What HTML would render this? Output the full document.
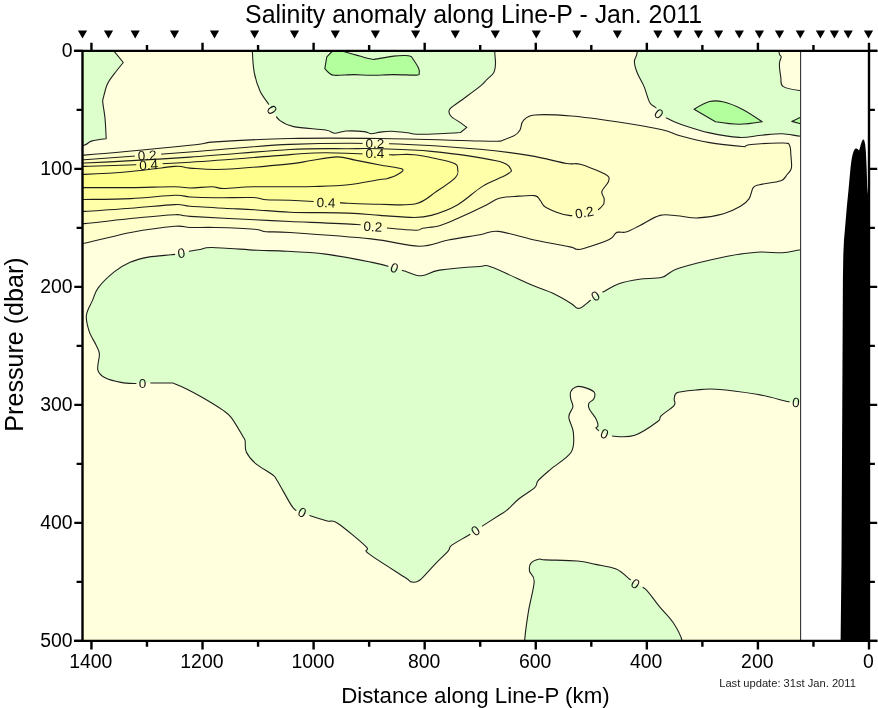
<!DOCTYPE html>
<html><head><meta charset="utf-8"><style>html,body{margin:0;padding:0;background:#fff;overflow:hidden}svg{display:block;will-change:transform}</style></head>
<body><svg width="878" height="708" viewBox="0 0 878 708">
<rect x="0" y="0" width="878" height="708" fill="#ffffff"/>
<defs><clipPath id="pc"><rect x="82.5" y="50.8" width="718.2" height="590"/></clipPath>
<mask id="lm" maskUnits="userSpaceOnUse" x="0" y="0" width="878" height="708"><rect x="0" y="0" width="878" height="708" fill="#fff"/><rect x="362.6" y="140.5" width="26.4" height="6" fill="#000" transform="rotate(0 375 143.5)"/><rect x="362.6" y="150.5" width="26.4" height="6" fill="#000" transform="rotate(0 375 153.5)"/><rect x="134.8" y="152.3" width="26.4" height="6" fill="#000" transform="rotate(-3 147.2 155.3)"/><rect x="136.3" y="161.9" width="26.4" height="6" fill="#000" transform="rotate(-3 148.7 164.9)"/><rect x="313.6" y="199.5" width="26.4" height="6" fill="#000" transform="rotate(2 326 202.5)"/><rect x="360.6" y="223.5" width="26.4" height="6" fill="#000" transform="rotate(3 373 226.5)"/><rect x="571.9" y="209.4" width="26.4" height="6" fill="#000" transform="rotate(-10 584.3 212.4)"/><rect x="266.0" y="106.8" width="14.0" height="6" fill="#000" transform="rotate(55 272.2 109.8)"/><rect x="652.8" y="110.8" width="14.0" height="6" fill="#000" transform="rotate(37 659 113.8)"/><rect x="175.0" y="249.9" width="14.0" height="6" fill="#000" transform="rotate(-8 181.2 252.9)"/><rect x="388.3" y="264.7" width="14.0" height="6" fill="#000" transform="rotate(20 394.5 267.7)"/><rect x="589.3" y="292.9" width="14.0" height="6" fill="#000" transform="rotate(-32 595.5 295.9)"/><rect x="136.4" y="380.0" width="14.0" height="6" fill="#000" transform="rotate(0 142.6 383)"/><rect x="296.1" y="509.4" width="14.0" height="6" fill="#000" transform="rotate(26 302.3 512.4)"/><rect x="469.2" y="527.6" width="14.0" height="6" fill="#000" transform="rotate(-34 475.4 530.6)"/><rect x="598.4" y="430.6" width="14.0" height="6" fill="#000" transform="rotate(22 604.6 433.6)"/><rect x="629.3" y="580.8" width="14.0" height="6" fill="#000" transform="rotate(32 635.5 583.8)"/><rect x="789.7" y="399.3" width="14.0" height="6" fill="#000" transform="rotate(5 795.9 402.3)"/></mask>
</defs>
<g clip-path="url(#pc)">
<rect x="80" y="48" width="725" height="596" fill="#ffffdd"/>
<path d="M60.00,30.00 C69.10,9.67 105.50,26.37 114.60,30.00 C123.70,33.63 114.60,51.80 114.60,51.80 C114.60,51.80 123.30,62.50 123.30,62.50 C123.30,62.50 116.87,70.28 114.20,73.90 C111.53,77.52 109.10,80.23 107.30,84.20 C105.50,88.17 104.15,94.67 103.40,97.70 C102.65,100.73 102.53,98.97 102.80,102.40 C103.07,105.83 104.43,112.23 105.00,118.30 C105.57,124.37 106.20,138.80 106.20,138.80 C106.20,138.80 95.08,140.03 91.40,141.10 C87.72,142.17 89.33,143.38 84.10,145.20 C78.87,147.02 64.02,171.20 60.00,152.00 C55.98,132.80 50.90,50.33 60.00,30.00 Z" fill="#ddffcc"/>
<path d="M252.40,30.00 C212.00,33.63 252.08,44.67 252.40,51.80 C252.72,58.93 253.03,66.27 254.30,72.80 C255.57,79.33 257.55,85.68 260.00,91.00 C262.45,96.32 267.00,101.47 269.00,104.70 C271.00,107.93 270.17,107.75 272.00,110.40 C273.83,113.05 276.38,117.90 280.00,120.60 C283.62,123.30 286.10,125.03 293.70,126.60 C301.30,128.17 318.77,128.90 325.60,130.00 C332.43,131.10 331.30,133.03 334.70,133.20 C338.10,133.37 341.07,131.27 346.00,131.00 C350.93,130.73 360.12,131.15 364.30,131.60 C368.48,132.05 368.45,133.62 371.10,133.70 C373.75,133.78 376.78,132.52 380.20,132.10 C383.62,131.68 387.03,131.08 391.60,131.20 C396.17,131.32 403.42,132.30 407.60,132.80 C411.78,133.30 411.38,134.05 416.70,134.20 C422.02,134.35 432.20,133.98 439.50,133.70 C446.80,133.42 460.50,132.50 460.50,132.50 C460.50,132.50 466.80,127.40 466.80,127.40 C466.80,127.40 462.67,124.30 460.00,122.40 C457.33,120.50 452.52,118.20 450.80,116.00 C449.08,113.80 448.17,111.65 449.70,109.20 C451.23,106.75 454.95,105.10 460.00,101.30 C465.05,97.50 475.53,90.02 480.00,86.40 C484.47,82.78 484.52,81.87 486.80,79.60 C489.08,77.33 492.25,75.45 493.70,72.80 C495.15,70.15 495.32,67.12 495.50,63.70 C495.68,60.28 494.92,57.92 494.80,52.30 C494.68,46.68 535.20,33.72 494.80,30.00 C454.40,26.28 292.80,26.37 252.40,30.00 Z" fill="#ddffcc"/>
<path d="M637.20,30.00 C613.57,33.72 637.67,47.07 637.20,52.30 C636.73,57.53 634.40,57.98 634.40,61.40 C634.40,64.82 635.60,68.63 637.20,72.80 C638.80,76.97 641.92,81.47 644.00,86.40 C646.08,91.33 647.70,98.80 649.70,102.40 C651.70,106.00 654.38,106.10 656.00,108.00 C657.62,109.90 657.13,111.88 659.40,113.80 C661.67,115.72 666.17,117.80 669.60,119.50 C673.03,121.20 673.33,121.77 680.00,124.00 C686.67,126.23 699.73,130.67 709.60,132.90 C719.47,135.13 730.57,137.02 739.20,137.40 C747.83,137.78 754.23,135.82 761.40,135.20 C768.57,134.58 775.67,133.53 782.20,133.70 C788.73,133.87 795.13,135.78 800.60,136.20 C806.07,136.62 812.60,143.82 815.00,136.20 C817.40,128.58 817.58,98.12 815.00,90.50 C812.42,82.88 804.83,91.18 799.50,90.50 C794.17,89.82 786.12,88.60 783.00,86.40 C779.88,84.20 781.40,81.08 780.80,77.30 C780.20,73.52 779.33,67.12 779.40,63.70 C779.47,60.28 781.27,58.70 781.20,56.80 C781.13,54.90 779.37,56.77 779.00,52.30 C778.63,47.83 802.63,33.72 779.00,30.00 C755.37,26.28 660.83,26.28 637.20,30.00 Z" fill="#ddffcc"/>
<path d="M86.40,315.20 C86.97,310.08 90.53,304.97 92.50,300.40 C94.47,295.83 94.58,292.55 98.20,287.80 C101.82,283.05 108.88,276.15 114.20,271.90 C119.52,267.65 124.42,264.77 130.10,262.30 C135.78,259.83 141.47,258.35 148.30,257.10 C155.13,255.85 165.78,255.37 171.10,254.80 C176.42,254.23 177.17,254.28 180.20,253.70 C183.23,253.12 186.00,252.00 189.30,251.30 C192.60,250.60 196.20,250.13 200.00,249.50 C203.80,248.87 202.48,247.37 212.10,247.50 C221.72,247.63 246.38,249.73 257.70,250.30 C269.02,250.87 268.68,250.27 280.00,250.90 C291.32,251.53 310.43,252.23 325.60,254.10 C340.77,255.97 359.62,259.82 371.00,262.10 C382.38,264.38 388.18,266.28 393.90,267.80 C399.62,269.32 400.75,269.87 405.30,271.20 C409.85,272.53 415.50,275.98 421.20,275.80 C426.90,275.62 429.70,271.65 439.50,270.10 C449.30,268.55 471.35,267.00 480.00,266.50 C488.65,266.00 482.67,263.97 491.40,267.10 C500.13,270.23 522.15,280.93 532.40,285.30 C542.65,289.67 546.45,290.27 552.90,293.30 C559.35,296.33 567.12,301.03 571.10,303.50 C575.08,305.97 575.08,307.45 576.80,308.10 C578.52,308.75 579.32,308.53 581.40,307.40 C583.48,306.27 586.83,303.27 589.30,301.30 C591.77,299.33 593.92,297.13 596.20,295.60 C598.48,294.07 599.22,294.08 603.00,292.10 C606.78,290.12 612.82,285.85 618.90,283.70 C624.98,281.55 632.28,280.27 639.50,279.20 C646.72,278.13 655.78,279.08 662.20,277.30 C668.62,275.52 667.32,271.97 678.00,268.50 C688.68,265.03 713.17,259.22 726.30,256.50 C739.43,253.78 747.48,252.83 756.80,252.20 C766.12,251.57 775.42,253.03 782.20,252.70 C788.98,252.37 794.37,250.65 797.50,250.20 C800.63,249.75 798.08,250.03 801.00,250.00 C803.92,249.97 812.67,224.55 815.00,250.00 C817.33,275.45 817.33,377.25 815.00,402.70 C812.67,428.15 804.33,402.70 801.00,402.70 C797.67,402.70 797.28,402.90 795.00,402.70 C792.72,402.50 793.67,402.90 787.30,401.50 C780.93,400.10 768.67,396.35 756.80,394.30 C744.93,392.25 726.27,389.92 716.10,389.20 C705.93,388.48 702.23,389.43 695.80,390.00 C689.37,390.57 681.10,391.12 677.50,392.60 C673.90,394.08 674.75,396.78 674.20,398.90 C673.65,401.02 676.38,402.48 674.20,405.30 C672.02,408.12 663.85,413.10 661.10,415.80 C658.35,418.50 662.07,418.27 657.70,421.50 C653.33,424.73 642.12,432.73 634.90,435.20 C627.68,437.67 619.53,436.62 614.40,436.30 C609.27,435.98 607.13,434.63 604.10,433.30 C601.07,431.97 597.22,429.50 596.20,428.30 C595.18,427.10 598.00,427.62 598.00,426.10 C598.00,424.58 597.65,422.05 596.20,419.20 C594.75,416.35 590.52,411.65 589.30,409.00 C588.08,406.35 588.13,405.02 588.90,403.30 C589.67,401.58 593.07,400.60 593.90,398.70 C594.73,396.80 595.80,393.87 593.90,391.90 C592.00,389.93 585.53,387.73 582.50,386.90 C579.47,386.07 577.67,386.07 575.70,386.90 C573.73,387.73 571.53,389.93 570.70,391.90 C569.87,393.87 570.33,396.23 570.70,398.70 C571.07,401.17 573.22,403.65 572.90,406.70 C572.58,409.75 568.72,412.63 568.80,417.00 C568.88,421.37 573.02,427.02 573.40,432.90 C573.78,438.78 574.90,446.23 571.10,452.30 C567.30,458.37 556.10,464.57 550.60,469.30 C545.10,474.03 540.75,477.65 538.10,480.70 C535.45,483.75 537.93,484.55 534.70,487.60 C531.47,490.65 523.27,495.28 518.70,499.00 C514.13,502.72 510.42,507.28 507.30,509.90 C504.18,512.52 504.18,512.00 500.00,514.70 C495.82,517.40 486.30,523.45 482.20,526.10 C478.10,528.75 477.67,529.08 475.40,530.60 C473.13,532.12 472.58,532.73 468.60,535.20 C464.62,537.67 454.92,542.75 451.50,545.40 C448.08,548.05 450.95,547.87 448.10,551.10 C445.25,554.33 439.15,559.93 434.40,564.80 C429.65,569.67 423.40,577.45 419.60,580.30 C415.80,583.15 414.07,582.40 411.60,581.90 C409.13,581.40 412.02,582.05 404.80,577.30 C397.58,572.55 374.77,558.52 368.30,553.40 C361.83,548.28 371.12,551.62 366.00,546.60 C360.88,541.58 344.05,527.57 337.60,523.30 C331.15,519.03 331.85,522.25 327.30,521.00 C322.75,519.75 314.47,517.23 310.30,515.80 C306.13,514.37 304.72,513.33 302.30,512.40 C299.88,511.47 297.70,511.50 295.80,510.20 C293.90,508.90 294.02,509.55 290.90,504.60 C287.78,499.65 280.17,485.47 277.10,480.50 C274.03,475.53 276.12,477.65 272.50,474.80 C268.88,471.95 259.77,467.20 255.40,463.40 C251.03,459.60 248.00,455.60 246.30,452.00 C244.60,448.40 245.58,444.08 245.20,441.80 C244.82,439.52 246.28,442.30 244.00,438.30 C241.72,434.30 235.10,422.53 231.50,417.80 C227.90,413.07 226.95,413.12 222.40,409.90 C217.85,406.68 210.08,401.95 204.20,398.50 C198.32,395.05 192.03,391.67 187.10,389.20 C182.17,386.73 177.27,384.73 174.60,383.70 C171.93,382.67 174.72,383.12 171.10,383.00 C167.48,382.88 157.65,383.00 152.90,383.00 C148.15,383.00 145.63,382.92 142.60,383.00 C139.57,383.08 138.30,383.60 134.70,383.50 C131.10,383.40 125.93,383.35 121.00,382.40 C116.07,381.45 108.97,379.90 105.10,377.80 C101.23,375.70 98.75,373.78 97.80,369.80 C96.85,365.82 99.72,358.07 99.40,353.90 C99.08,349.73 97.62,348.60 95.90,344.80 C94.18,341.00 90.68,336.03 89.10,331.10 C87.52,326.17 85.83,320.32 86.40,315.20 Z" fill="#ddffcc"/>
<path d="M524.60,660.00 C498.33,656.83 523.95,649.15 524.60,641.00 C525.25,632.85 526.90,621.02 528.50,611.10 C530.10,601.18 534.02,588.13 534.20,581.50 C534.38,574.87 530.17,574.33 529.60,571.30 C529.03,568.27 529.28,565.32 530.80,563.30 C532.32,561.28 536.23,559.77 538.70,559.20 C541.17,558.63 539.15,559.60 545.60,559.90 C552.05,560.20 569.05,560.25 577.40,561.00 C585.75,561.75 589.23,563.07 595.70,564.40 C602.17,565.73 610.52,566.53 616.20,569.00 C621.88,571.47 626.58,576.73 629.80,579.20 C633.02,581.67 632.88,582.13 635.50,583.80 C638.12,585.47 641.50,585.40 645.50,589.20 C649.50,593.00 654.90,601.05 659.50,606.60 C664.10,612.15 669.32,616.77 673.10,622.50 C676.88,628.23 680.68,634.75 682.20,641.00 C683.72,647.25 708.47,656.83 682.20,660.00 C655.93,663.17 550.87,663.17 524.60,660.00 Z" fill="#ddffcc"/>
<path d="M332.00,51.50 C332.00,51.50 343.80,51.50 343.80,51.50 C343.80,51.50 364.53,57.57 370.00,58.80 C375.47,60.03 372.67,59.35 376.60,58.90 C380.53,58.45 388.80,56.67 393.60,56.10 C398.40,55.53 402.45,55.43 405.40,55.50 C408.35,55.57 411.30,56.50 411.30,56.50 C411.30,56.50 417.20,65.12 418.50,67.90 C419.80,70.68 419.10,73.20 419.10,73.20 C419.10,73.20 420.75,74.87 416.50,75.10 C412.25,75.33 401.13,74.57 393.60,74.60 C386.07,74.63 377.85,75.30 371.30,75.30 C364.75,75.30 360.42,74.60 354.30,74.60 C348.18,74.60 338.75,75.53 334.60,75.30 C330.45,75.07 331.03,74.32 329.40,73.20 C327.77,72.08 324.80,68.60 324.80,68.60 C324.80,68.60 326.80,56.80 326.80,56.80 C326.80,56.80 332.00,51.50 332.00,51.50 Z" fill="#b3fe9d"/>
<path d="M694.10,109.20 C694.10,109.20 704.80,102.73 709.60,101.50 C714.40,100.27 717.47,100.52 722.90,101.80 C728.33,103.08 735.65,105.87 742.20,109.20 C748.75,112.53 762.20,121.80 762.20,121.80 C762.20,121.80 746.98,124.30 739.20,124.30 C731.42,124.30 715.50,121.80 715.50,121.80 C715.50,121.80 694.10,109.20 694.10,109.20 Z" fill="#b3fe9d"/>
<path d="M791.80,121.40 C791.80,121.40 800.60,117.20 800.60,117.20 C800.60,117.20 815.00,117.00 815.00,117.00 C815.00,117.00 815.00,124.00 815.00,124.00 C815.00,124.00 800.60,123.80 800.60,123.80 C800.60,123.80 791.80,121.40 791.80,121.40 Z" fill="#b3fe9d"/>
<path d="M60.00,155.30 C64.03,140.48 62.53,156.77 84.20,155.10 C105.87,153.43 168.13,147.50 190.00,145.30 C211.87,143.10 198.73,143.03 215.40,141.90 C232.07,140.77 262.57,139.07 290.00,138.50 C317.43,137.93 348.33,138.08 380.00,138.50 C411.67,138.92 460.07,140.57 480.00,141.00 C499.93,141.43 495.80,141.22 499.60,141.10 C503.40,140.98 500.23,141.30 502.80,140.30 C505.37,139.30 512.13,136.82 515.00,135.10 C517.87,133.38 518.62,132.42 520.00,130.00 C521.38,127.58 520.85,123.10 523.30,120.60 C525.75,118.10 526.73,115.77 534.70,115.00 C542.67,114.23 557.43,114.87 571.10,116.00 C584.77,117.13 601.52,119.52 616.70,121.80 C631.88,124.08 651.65,127.38 662.20,129.70 C672.75,132.02 672.10,133.55 680.00,135.70 C687.90,137.85 698.75,140.75 709.60,142.60 C720.45,144.45 745.10,146.80 745.10,146.80 C745.10,146.80 744.68,145.13 751.10,144.50 C757.52,143.87 777.18,142.83 783.60,143.00 C790.02,143.17 788.38,143.43 789.60,145.50 C790.82,147.57 790.60,151.63 790.90,155.40 C791.20,159.17 792.03,164.92 791.40,168.10 C790.77,171.28 788.87,172.38 787.10,174.50 C785.33,176.62 785.38,179.10 780.80,180.80 C776.22,182.50 764.20,183.57 759.60,184.70 C755.00,185.83 754.97,185.23 753.20,187.60 C751.43,189.97 751.12,195.78 749.00,198.90 C746.88,202.02 744.73,203.83 740.50,206.30 C736.27,208.77 730.67,211.77 723.60,213.70 C716.53,215.63 705.87,217.55 698.10,217.90 C690.33,218.25 683.35,216.22 677.00,215.80 C670.65,215.38 666.17,213.78 660.00,215.40 C653.83,217.02 644.98,222.98 640.00,225.50 C635.02,228.02 632.65,229.37 630.10,230.50 C627.55,231.63 626.52,232.03 624.70,232.30 C622.88,232.57 620.72,231.95 619.20,232.10 C617.68,232.25 617.27,231.95 615.60,233.20 C613.93,234.45 614.52,237.05 609.20,239.60 C603.88,242.15 589.17,246.90 583.70,248.50 C578.23,250.10 578.68,249.47 576.40,249.20 C574.12,248.93 576.57,248.35 570.00,246.90 C563.43,245.45 548.97,243.08 537.00,240.50 C525.03,237.92 507.70,232.35 498.20,231.40 C488.70,230.45 488.32,233.37 480.00,234.80 C471.68,236.23 458.47,238.10 448.30,240.00 C438.13,241.90 431.88,246.38 419.00,246.20 C406.12,246.02 392.50,241.18 371.00,238.90 C349.50,236.62 307.45,233.70 290.00,232.50 C272.55,231.30 272.23,232.25 266.30,231.70 C260.37,231.15 262.88,229.90 254.40,229.20 C245.92,228.50 226.13,227.78 215.40,227.50 C204.67,227.22 196.75,227.70 190.00,227.50 C183.25,227.30 184.77,225.47 174.90,226.30 C165.03,227.13 145.92,229.68 130.80,232.50 C115.68,235.32 96.00,241.28 84.20,243.20 C72.40,245.12 64.03,258.65 60.00,244.00 C55.97,229.35 55.97,170.12 60.00,155.30 Z" fill="#ffffcc"/>
<path d="M60.00,159.80 C64.03,149.08 62.53,161.00 84.20,159.70 C105.87,158.40 155.70,154.55 190.00,152.00 C224.30,149.45 256.77,145.78 290.00,144.40 C323.23,143.02 357.73,142.88 389.40,143.70 C421.07,144.52 456.57,147.32 480.00,149.30 C503.43,151.28 515.57,153.23 530.00,155.60 C544.43,157.97 558.23,162.07 566.60,163.50 C574.97,164.93 573.75,162.40 580.20,164.20 C586.65,166.00 600.55,171.53 605.30,174.30 C610.05,177.07 609.27,177.93 608.70,180.80 C608.13,183.67 602.67,188.58 601.90,191.50 C601.13,194.42 603.78,196.22 604.10,198.30 C604.42,200.38 603.80,204.00 603.80,204.00 C603.80,204.00 600.80,208.00 598.50,209.50 C596.20,211.00 594.95,212.02 590.00,213.00 C585.05,213.98 576.13,216.33 568.80,215.40 C561.47,214.47 550.73,209.87 546.00,207.40 C541.27,204.93 542.28,202.57 540.40,200.60 C538.52,198.63 539.07,196.28 534.70,195.60 C530.33,194.92 519.48,196.18 514.20,196.50 C508.92,196.82 506.03,197.00 503.00,197.50 C499.97,198.00 498.85,198.22 496.00,199.50 C493.15,200.78 492.42,201.98 485.90,205.20 C479.38,208.42 464.63,215.38 456.90,218.80 C449.17,222.22 445.20,224.13 439.50,225.70 C433.80,227.27 426.50,227.45 422.70,228.20 C418.90,228.95 422.65,230.23 416.70,230.20 C410.75,230.17 396.88,228.95 387.00,228.00 C377.12,227.05 373.57,225.58 357.40,224.50 C341.23,223.42 307.17,222.28 290.00,221.50 C272.83,220.72 271.07,220.65 254.40,219.80 C237.73,218.95 203.25,217.25 190.00,216.40 C176.75,215.55 184.77,214.35 174.90,214.70 C165.03,215.05 145.92,217.02 130.80,218.50 C115.68,219.98 96.00,222.68 84.20,223.60 C72.40,224.52 64.03,234.63 60.00,224.00 C55.97,213.37 55.97,170.52 60.00,159.80 Z" fill="#ffffbb"/>
<path d="M60.00,163.00 C64.03,154.92 62.53,163.98 84.20,163.00 C105.87,162.02 155.70,159.35 190.00,157.10 C224.30,154.85 263.62,150.90 290.00,149.50 C316.38,148.10 333.30,148.82 348.30,148.70 C363.30,148.58 366.17,148.35 380.00,148.80 C393.83,149.25 411.93,149.40 431.30,151.40 C450.67,153.40 482.97,157.87 496.20,160.80 C509.43,163.73 509.00,166.67 510.70,169.00 C512.40,171.33 511.10,171.90 506.40,174.80 C501.70,177.70 490.75,181.33 482.50,186.40 C474.25,191.47 465.43,200.37 456.90,205.20 C448.37,210.03 438.42,213.35 431.30,215.40 C424.18,217.45 422.75,217.50 414.20,217.50 C405.65,217.50 390.98,216.13 380.00,215.40 C369.02,214.67 363.30,213.63 348.30,213.10 C333.30,212.57 305.65,212.77 290.00,212.20 C274.35,211.63 265.42,210.35 254.40,209.70 C243.38,209.05 234.63,208.87 223.90,208.30 C213.17,207.73 198.17,206.92 190.00,206.30 C181.83,205.68 184.77,204.27 174.90,204.60 C165.03,204.93 145.92,207.17 130.80,208.30 C115.68,209.43 96.00,210.87 84.20,211.40 C72.40,211.93 64.03,219.57 60.00,211.50 C55.97,203.43 55.97,171.08 60.00,163.00 Z" fill="#ffffaa"/>
<path d="M60.00,166.40 C64.03,160.88 62.53,167.10 84.20,166.40 C105.87,165.70 155.70,164.17 190.00,162.20 C224.30,160.23 267.40,156.17 290.00,154.60 C312.60,153.03 309.03,152.77 325.60,152.80 C342.17,152.83 374.63,154.47 389.40,154.80 C404.17,155.13 403.80,153.52 414.20,154.80 C424.60,156.08 444.55,160.08 451.80,162.50 C459.05,164.92 457.13,166.75 457.70,169.30 C458.27,171.85 458.75,174.10 455.20,177.80 C451.65,181.50 442.95,187.17 436.40,191.50 C429.85,195.83 425.30,201.67 415.90,203.80 C406.50,205.93 392.40,204.45 380.00,204.30 C367.60,204.15 356.50,203.57 341.50,202.90 C326.50,202.23 302.53,200.82 290.00,200.30 C277.47,199.78 272.52,200.27 266.30,199.80 C260.08,199.33 261.18,197.83 252.70,197.50 C244.22,197.17 225.85,197.88 215.40,197.80 C204.95,197.72 196.75,197.42 190.00,197.00 C183.25,196.58 184.77,195.03 174.90,195.30 C165.03,195.57 145.92,197.90 130.80,198.60 C115.68,199.30 96.00,199.35 84.20,199.50 C72.40,199.65 64.03,205.02 60.00,199.50 C55.97,193.98 55.97,171.92 60.00,166.40 Z" fill="#ffff99"/>
<path d="M60.00,174.40 C64.03,172.20 72.40,174.88 84.20,174.40 C96.00,173.92 115.68,172.83 130.80,171.50 C145.92,170.17 165.03,166.97 174.90,166.40 C184.77,165.83 181.83,167.62 190.00,168.10 C198.17,168.58 207.23,170.00 223.90,169.30 C240.57,168.60 275.72,165.32 290.00,163.90 C304.28,162.48 301.77,161.97 309.60,160.80 C317.43,159.63 329.40,157.02 337.00,156.90 C344.60,156.78 348.03,158.75 355.20,160.10 C362.37,161.45 372.17,163.52 380.00,165.00 C387.83,166.48 399.35,167.37 402.20,169.00 C405.05,170.63 399.67,173.18 397.10,174.80 C394.53,176.42 389.65,177.92 386.80,178.70 C383.95,179.48 386.42,178.50 380.00,179.50 C373.58,180.50 359.27,183.53 348.30,184.70 C337.33,185.87 323.92,186.15 314.20,186.50 C304.48,186.85 300.25,186.75 290.00,186.80 C279.75,186.85 263.72,186.52 252.70,186.80 C241.68,187.08 230.68,188.50 223.90,188.50 C217.12,188.50 217.65,186.88 212.00,186.80 C206.35,186.72 196.18,188.00 190.00,188.00 C183.82,188.00 184.77,186.87 174.90,186.80 C165.03,186.73 145.92,187.47 130.80,187.60 C115.68,187.73 96.00,187.60 84.20,187.60 C72.40,187.60 64.03,189.80 60.00,187.60 C55.97,185.40 55.97,176.60 60.00,174.40 Z" fill="#ffff8c"/>
</g>
<g clip-path="url(#pc)" mask="url(#lm)" fill="none" stroke="#1e1e1e" stroke-width="1.1" stroke-linejoin="round">
<path d="M60.00,30.00 C69.10,9.67 105.50,26.37 114.60,30.00 C123.70,33.63 114.60,51.80 114.60,51.80 C114.60,51.80 123.30,62.50 123.30,62.50 C123.30,62.50 116.87,70.28 114.20,73.90 C111.53,77.52 109.10,80.23 107.30,84.20 C105.50,88.17 104.15,94.67 103.40,97.70 C102.65,100.73 102.53,98.97 102.80,102.40 C103.07,105.83 104.43,112.23 105.00,118.30 C105.57,124.37 106.20,138.80 106.20,138.80 C106.20,138.80 95.08,140.03 91.40,141.10 C87.72,142.17 89.33,143.38 84.10,145.20 C78.87,147.02 64.02,171.20 60.00,152.00 C55.98,132.80 50.90,50.33 60.00,30.00 Z"/>
<path d="M252.40,30.00 C212.00,33.63 252.08,44.67 252.40,51.80 C252.72,58.93 253.03,66.27 254.30,72.80 C255.57,79.33 257.55,85.68 260.00,91.00 C262.45,96.32 267.00,101.47 269.00,104.70 C271.00,107.93 270.17,107.75 272.00,110.40 C273.83,113.05 276.38,117.90 280.00,120.60 C283.62,123.30 286.10,125.03 293.70,126.60 C301.30,128.17 318.77,128.90 325.60,130.00 C332.43,131.10 331.30,133.03 334.70,133.20 C338.10,133.37 341.07,131.27 346.00,131.00 C350.93,130.73 360.12,131.15 364.30,131.60 C368.48,132.05 368.45,133.62 371.10,133.70 C373.75,133.78 376.78,132.52 380.20,132.10 C383.62,131.68 387.03,131.08 391.60,131.20 C396.17,131.32 403.42,132.30 407.60,132.80 C411.78,133.30 411.38,134.05 416.70,134.20 C422.02,134.35 432.20,133.98 439.50,133.70 C446.80,133.42 460.50,132.50 460.50,132.50 C460.50,132.50 466.80,127.40 466.80,127.40 C466.80,127.40 462.67,124.30 460.00,122.40 C457.33,120.50 452.52,118.20 450.80,116.00 C449.08,113.80 448.17,111.65 449.70,109.20 C451.23,106.75 454.95,105.10 460.00,101.30 C465.05,97.50 475.53,90.02 480.00,86.40 C484.47,82.78 484.52,81.87 486.80,79.60 C489.08,77.33 492.25,75.45 493.70,72.80 C495.15,70.15 495.32,67.12 495.50,63.70 C495.68,60.28 494.92,57.92 494.80,52.30 C494.68,46.68 535.20,33.72 494.80,30.00 C454.40,26.28 292.80,26.37 252.40,30.00 Z"/>
<path d="M637.20,30.00 C613.57,33.72 637.67,47.07 637.20,52.30 C636.73,57.53 634.40,57.98 634.40,61.40 C634.40,64.82 635.60,68.63 637.20,72.80 C638.80,76.97 641.92,81.47 644.00,86.40 C646.08,91.33 647.70,98.80 649.70,102.40 C651.70,106.00 654.38,106.10 656.00,108.00 C657.62,109.90 657.13,111.88 659.40,113.80 C661.67,115.72 666.17,117.80 669.60,119.50 C673.03,121.20 673.33,121.77 680.00,124.00 C686.67,126.23 699.73,130.67 709.60,132.90 C719.47,135.13 730.57,137.02 739.20,137.40 C747.83,137.78 754.23,135.82 761.40,135.20 C768.57,134.58 775.67,133.53 782.20,133.70 C788.73,133.87 795.13,135.78 800.60,136.20 C806.07,136.62 812.60,143.82 815.00,136.20 C817.40,128.58 817.58,98.12 815.00,90.50 C812.42,82.88 804.83,91.18 799.50,90.50 C794.17,89.82 786.12,88.60 783.00,86.40 C779.88,84.20 781.40,81.08 780.80,77.30 C780.20,73.52 779.33,67.12 779.40,63.70 C779.47,60.28 781.27,58.70 781.20,56.80 C781.13,54.90 779.37,56.77 779.00,52.30 C778.63,47.83 802.63,33.72 779.00,30.00 C755.37,26.28 660.83,26.28 637.20,30.00 Z"/>
<path d="M86.40,315.20 C86.97,310.08 90.53,304.97 92.50,300.40 C94.47,295.83 94.58,292.55 98.20,287.80 C101.82,283.05 108.88,276.15 114.20,271.90 C119.52,267.65 124.42,264.77 130.10,262.30 C135.78,259.83 141.47,258.35 148.30,257.10 C155.13,255.85 165.78,255.37 171.10,254.80 C176.42,254.23 177.17,254.28 180.20,253.70 C183.23,253.12 186.00,252.00 189.30,251.30 C192.60,250.60 196.20,250.13 200.00,249.50 C203.80,248.87 202.48,247.37 212.10,247.50 C221.72,247.63 246.38,249.73 257.70,250.30 C269.02,250.87 268.68,250.27 280.00,250.90 C291.32,251.53 310.43,252.23 325.60,254.10 C340.77,255.97 359.62,259.82 371.00,262.10 C382.38,264.38 388.18,266.28 393.90,267.80 C399.62,269.32 400.75,269.87 405.30,271.20 C409.85,272.53 415.50,275.98 421.20,275.80 C426.90,275.62 429.70,271.65 439.50,270.10 C449.30,268.55 471.35,267.00 480.00,266.50 C488.65,266.00 482.67,263.97 491.40,267.10 C500.13,270.23 522.15,280.93 532.40,285.30 C542.65,289.67 546.45,290.27 552.90,293.30 C559.35,296.33 567.12,301.03 571.10,303.50 C575.08,305.97 575.08,307.45 576.80,308.10 C578.52,308.75 579.32,308.53 581.40,307.40 C583.48,306.27 586.83,303.27 589.30,301.30 C591.77,299.33 593.92,297.13 596.20,295.60 C598.48,294.07 599.22,294.08 603.00,292.10 C606.78,290.12 612.82,285.85 618.90,283.70 C624.98,281.55 632.28,280.27 639.50,279.20 C646.72,278.13 655.78,279.08 662.20,277.30 C668.62,275.52 667.32,271.97 678.00,268.50 C688.68,265.03 713.17,259.22 726.30,256.50 C739.43,253.78 747.48,252.83 756.80,252.20 C766.12,251.57 775.42,253.03 782.20,252.70 C788.98,252.37 794.37,250.65 797.50,250.20 C800.63,249.75 798.08,250.03 801.00,250.00 C803.92,249.97 812.67,224.55 815.00,250.00 C817.33,275.45 817.33,377.25 815.00,402.70 C812.67,428.15 804.33,402.70 801.00,402.70 C797.67,402.70 797.28,402.90 795.00,402.70 C792.72,402.50 793.67,402.90 787.30,401.50 C780.93,400.10 768.67,396.35 756.80,394.30 C744.93,392.25 726.27,389.92 716.10,389.20 C705.93,388.48 702.23,389.43 695.80,390.00 C689.37,390.57 681.10,391.12 677.50,392.60 C673.90,394.08 674.75,396.78 674.20,398.90 C673.65,401.02 676.38,402.48 674.20,405.30 C672.02,408.12 663.85,413.10 661.10,415.80 C658.35,418.50 662.07,418.27 657.70,421.50 C653.33,424.73 642.12,432.73 634.90,435.20 C627.68,437.67 619.53,436.62 614.40,436.30 C609.27,435.98 607.13,434.63 604.10,433.30 C601.07,431.97 597.22,429.50 596.20,428.30 C595.18,427.10 598.00,427.62 598.00,426.10 C598.00,424.58 597.65,422.05 596.20,419.20 C594.75,416.35 590.52,411.65 589.30,409.00 C588.08,406.35 588.13,405.02 588.90,403.30 C589.67,401.58 593.07,400.60 593.90,398.70 C594.73,396.80 595.80,393.87 593.90,391.90 C592.00,389.93 585.53,387.73 582.50,386.90 C579.47,386.07 577.67,386.07 575.70,386.90 C573.73,387.73 571.53,389.93 570.70,391.90 C569.87,393.87 570.33,396.23 570.70,398.70 C571.07,401.17 573.22,403.65 572.90,406.70 C572.58,409.75 568.72,412.63 568.80,417.00 C568.88,421.37 573.02,427.02 573.40,432.90 C573.78,438.78 574.90,446.23 571.10,452.30 C567.30,458.37 556.10,464.57 550.60,469.30 C545.10,474.03 540.75,477.65 538.10,480.70 C535.45,483.75 537.93,484.55 534.70,487.60 C531.47,490.65 523.27,495.28 518.70,499.00 C514.13,502.72 510.42,507.28 507.30,509.90 C504.18,512.52 504.18,512.00 500.00,514.70 C495.82,517.40 486.30,523.45 482.20,526.10 C478.10,528.75 477.67,529.08 475.40,530.60 C473.13,532.12 472.58,532.73 468.60,535.20 C464.62,537.67 454.92,542.75 451.50,545.40 C448.08,548.05 450.95,547.87 448.10,551.10 C445.25,554.33 439.15,559.93 434.40,564.80 C429.65,569.67 423.40,577.45 419.60,580.30 C415.80,583.15 414.07,582.40 411.60,581.90 C409.13,581.40 412.02,582.05 404.80,577.30 C397.58,572.55 374.77,558.52 368.30,553.40 C361.83,548.28 371.12,551.62 366.00,546.60 C360.88,541.58 344.05,527.57 337.60,523.30 C331.15,519.03 331.85,522.25 327.30,521.00 C322.75,519.75 314.47,517.23 310.30,515.80 C306.13,514.37 304.72,513.33 302.30,512.40 C299.88,511.47 297.70,511.50 295.80,510.20 C293.90,508.90 294.02,509.55 290.90,504.60 C287.78,499.65 280.17,485.47 277.10,480.50 C274.03,475.53 276.12,477.65 272.50,474.80 C268.88,471.95 259.77,467.20 255.40,463.40 C251.03,459.60 248.00,455.60 246.30,452.00 C244.60,448.40 245.58,444.08 245.20,441.80 C244.82,439.52 246.28,442.30 244.00,438.30 C241.72,434.30 235.10,422.53 231.50,417.80 C227.90,413.07 226.95,413.12 222.40,409.90 C217.85,406.68 210.08,401.95 204.20,398.50 C198.32,395.05 192.03,391.67 187.10,389.20 C182.17,386.73 177.27,384.73 174.60,383.70 C171.93,382.67 174.72,383.12 171.10,383.00 C167.48,382.88 157.65,383.00 152.90,383.00 C148.15,383.00 145.63,382.92 142.60,383.00 C139.57,383.08 138.30,383.60 134.70,383.50 C131.10,383.40 125.93,383.35 121.00,382.40 C116.07,381.45 108.97,379.90 105.10,377.80 C101.23,375.70 98.75,373.78 97.80,369.80 C96.85,365.82 99.72,358.07 99.40,353.90 C99.08,349.73 97.62,348.60 95.90,344.80 C94.18,341.00 90.68,336.03 89.10,331.10 C87.52,326.17 85.83,320.32 86.40,315.20 Z"/>
<path d="M524.60,660.00 C498.33,656.83 523.95,649.15 524.60,641.00 C525.25,632.85 526.90,621.02 528.50,611.10 C530.10,601.18 534.02,588.13 534.20,581.50 C534.38,574.87 530.17,574.33 529.60,571.30 C529.03,568.27 529.28,565.32 530.80,563.30 C532.32,561.28 536.23,559.77 538.70,559.20 C541.17,558.63 539.15,559.60 545.60,559.90 C552.05,560.20 569.05,560.25 577.40,561.00 C585.75,561.75 589.23,563.07 595.70,564.40 C602.17,565.73 610.52,566.53 616.20,569.00 C621.88,571.47 626.58,576.73 629.80,579.20 C633.02,581.67 632.88,582.13 635.50,583.80 C638.12,585.47 641.50,585.40 645.50,589.20 C649.50,593.00 654.90,601.05 659.50,606.60 C664.10,612.15 669.32,616.77 673.10,622.50 C676.88,628.23 680.68,634.75 682.20,641.00 C683.72,647.25 708.47,656.83 682.20,660.00 C655.93,663.17 550.87,663.17 524.60,660.00 Z"/>
<path d="M332.00,51.50 C332.00,51.50 343.80,51.50 343.80,51.50 C343.80,51.50 364.53,57.57 370.00,58.80 C375.47,60.03 372.67,59.35 376.60,58.90 C380.53,58.45 388.80,56.67 393.60,56.10 C398.40,55.53 402.45,55.43 405.40,55.50 C408.35,55.57 411.30,56.50 411.30,56.50 C411.30,56.50 417.20,65.12 418.50,67.90 C419.80,70.68 419.10,73.20 419.10,73.20 C419.10,73.20 420.75,74.87 416.50,75.10 C412.25,75.33 401.13,74.57 393.60,74.60 C386.07,74.63 377.85,75.30 371.30,75.30 C364.75,75.30 360.42,74.60 354.30,74.60 C348.18,74.60 338.75,75.53 334.60,75.30 C330.45,75.07 331.03,74.32 329.40,73.20 C327.77,72.08 324.80,68.60 324.80,68.60 C324.80,68.60 326.80,56.80 326.80,56.80 C326.80,56.80 332.00,51.50 332.00,51.50 Z"/>
<path d="M694.10,109.20 C694.10,109.20 704.80,102.73 709.60,101.50 C714.40,100.27 717.47,100.52 722.90,101.80 C728.33,103.08 735.65,105.87 742.20,109.20 C748.75,112.53 762.20,121.80 762.20,121.80 C762.20,121.80 746.98,124.30 739.20,124.30 C731.42,124.30 715.50,121.80 715.50,121.80 C715.50,121.80 694.10,109.20 694.10,109.20 Z"/>
<path d="M791.80,121.40 C791.80,121.40 800.60,117.20 800.60,117.20 C800.60,117.20 815.00,117.00 815.00,117.00 C815.00,117.00 815.00,124.00 815.00,124.00 C815.00,124.00 800.60,123.80 800.60,123.80 C800.60,123.80 791.80,121.40 791.80,121.40 Z"/>
<path d="M60.00,155.30 C64.03,140.48 62.53,156.77 84.20,155.10 C105.87,153.43 168.13,147.50 190.00,145.30 C211.87,143.10 198.73,143.03 215.40,141.90 C232.07,140.77 262.57,139.07 290.00,138.50 C317.43,137.93 348.33,138.08 380.00,138.50 C411.67,138.92 460.07,140.57 480.00,141.00 C499.93,141.43 495.80,141.22 499.60,141.10 C503.40,140.98 500.23,141.30 502.80,140.30 C505.37,139.30 512.13,136.82 515.00,135.10 C517.87,133.38 518.62,132.42 520.00,130.00 C521.38,127.58 520.85,123.10 523.30,120.60 C525.75,118.10 526.73,115.77 534.70,115.00 C542.67,114.23 557.43,114.87 571.10,116.00 C584.77,117.13 601.52,119.52 616.70,121.80 C631.88,124.08 651.65,127.38 662.20,129.70 C672.75,132.02 672.10,133.55 680.00,135.70 C687.90,137.85 698.75,140.75 709.60,142.60 C720.45,144.45 745.10,146.80 745.10,146.80 C745.10,146.80 744.68,145.13 751.10,144.50 C757.52,143.87 777.18,142.83 783.60,143.00 C790.02,143.17 788.38,143.43 789.60,145.50 C790.82,147.57 790.60,151.63 790.90,155.40 C791.20,159.17 792.03,164.92 791.40,168.10 C790.77,171.28 788.87,172.38 787.10,174.50 C785.33,176.62 785.38,179.10 780.80,180.80 C776.22,182.50 764.20,183.57 759.60,184.70 C755.00,185.83 754.97,185.23 753.20,187.60 C751.43,189.97 751.12,195.78 749.00,198.90 C746.88,202.02 744.73,203.83 740.50,206.30 C736.27,208.77 730.67,211.77 723.60,213.70 C716.53,215.63 705.87,217.55 698.10,217.90 C690.33,218.25 683.35,216.22 677.00,215.80 C670.65,215.38 666.17,213.78 660.00,215.40 C653.83,217.02 644.98,222.98 640.00,225.50 C635.02,228.02 632.65,229.37 630.10,230.50 C627.55,231.63 626.52,232.03 624.70,232.30 C622.88,232.57 620.72,231.95 619.20,232.10 C617.68,232.25 617.27,231.95 615.60,233.20 C613.93,234.45 614.52,237.05 609.20,239.60 C603.88,242.15 589.17,246.90 583.70,248.50 C578.23,250.10 578.68,249.47 576.40,249.20 C574.12,248.93 576.57,248.35 570.00,246.90 C563.43,245.45 548.97,243.08 537.00,240.50 C525.03,237.92 507.70,232.35 498.20,231.40 C488.70,230.45 488.32,233.37 480.00,234.80 C471.68,236.23 458.47,238.10 448.30,240.00 C438.13,241.90 431.88,246.38 419.00,246.20 C406.12,246.02 392.50,241.18 371.00,238.90 C349.50,236.62 307.45,233.70 290.00,232.50 C272.55,231.30 272.23,232.25 266.30,231.70 C260.37,231.15 262.88,229.90 254.40,229.20 C245.92,228.50 226.13,227.78 215.40,227.50 C204.67,227.22 196.75,227.70 190.00,227.50 C183.25,227.30 184.77,225.47 174.90,226.30 C165.03,227.13 145.92,229.68 130.80,232.50 C115.68,235.32 96.00,241.28 84.20,243.20 C72.40,245.12 64.03,258.65 60.00,244.00 C55.97,229.35 55.97,170.12 60.00,155.30 Z"/>
<path d="M60.00,159.80 C64.03,149.08 62.53,161.00 84.20,159.70 C105.87,158.40 155.70,154.55 190.00,152.00 C224.30,149.45 256.77,145.78 290.00,144.40 C323.23,143.02 357.73,142.88 389.40,143.70 C421.07,144.52 456.57,147.32 480.00,149.30 C503.43,151.28 515.57,153.23 530.00,155.60 C544.43,157.97 558.23,162.07 566.60,163.50 C574.97,164.93 573.75,162.40 580.20,164.20 C586.65,166.00 600.55,171.53 605.30,174.30 C610.05,177.07 609.27,177.93 608.70,180.80 C608.13,183.67 602.67,188.58 601.90,191.50 C601.13,194.42 603.78,196.22 604.10,198.30 C604.42,200.38 603.80,204.00 603.80,204.00 C603.80,204.00 600.80,208.00 598.50,209.50 C596.20,211.00 594.95,212.02 590.00,213.00 C585.05,213.98 576.13,216.33 568.80,215.40 C561.47,214.47 550.73,209.87 546.00,207.40 C541.27,204.93 542.28,202.57 540.40,200.60 C538.52,198.63 539.07,196.28 534.70,195.60 C530.33,194.92 519.48,196.18 514.20,196.50 C508.92,196.82 506.03,197.00 503.00,197.50 C499.97,198.00 498.85,198.22 496.00,199.50 C493.15,200.78 492.42,201.98 485.90,205.20 C479.38,208.42 464.63,215.38 456.90,218.80 C449.17,222.22 445.20,224.13 439.50,225.70 C433.80,227.27 426.50,227.45 422.70,228.20 C418.90,228.95 422.65,230.23 416.70,230.20 C410.75,230.17 396.88,228.95 387.00,228.00 C377.12,227.05 373.57,225.58 357.40,224.50 C341.23,223.42 307.17,222.28 290.00,221.50 C272.83,220.72 271.07,220.65 254.40,219.80 C237.73,218.95 203.25,217.25 190.00,216.40 C176.75,215.55 184.77,214.35 174.90,214.70 C165.03,215.05 145.92,217.02 130.80,218.50 C115.68,219.98 96.00,222.68 84.20,223.60 C72.40,224.52 64.03,234.63 60.00,224.00 C55.97,213.37 55.97,170.52 60.00,159.80 Z"/>
<path d="M60.00,163.00 C64.03,154.92 62.53,163.98 84.20,163.00 C105.87,162.02 155.70,159.35 190.00,157.10 C224.30,154.85 263.62,150.90 290.00,149.50 C316.38,148.10 333.30,148.82 348.30,148.70 C363.30,148.58 366.17,148.35 380.00,148.80 C393.83,149.25 411.93,149.40 431.30,151.40 C450.67,153.40 482.97,157.87 496.20,160.80 C509.43,163.73 509.00,166.67 510.70,169.00 C512.40,171.33 511.10,171.90 506.40,174.80 C501.70,177.70 490.75,181.33 482.50,186.40 C474.25,191.47 465.43,200.37 456.90,205.20 C448.37,210.03 438.42,213.35 431.30,215.40 C424.18,217.45 422.75,217.50 414.20,217.50 C405.65,217.50 390.98,216.13 380.00,215.40 C369.02,214.67 363.30,213.63 348.30,213.10 C333.30,212.57 305.65,212.77 290.00,212.20 C274.35,211.63 265.42,210.35 254.40,209.70 C243.38,209.05 234.63,208.87 223.90,208.30 C213.17,207.73 198.17,206.92 190.00,206.30 C181.83,205.68 184.77,204.27 174.90,204.60 C165.03,204.93 145.92,207.17 130.80,208.30 C115.68,209.43 96.00,210.87 84.20,211.40 C72.40,211.93 64.03,219.57 60.00,211.50 C55.97,203.43 55.97,171.08 60.00,163.00 Z"/>
<path d="M60.00,166.40 C64.03,160.88 62.53,167.10 84.20,166.40 C105.87,165.70 155.70,164.17 190.00,162.20 C224.30,160.23 267.40,156.17 290.00,154.60 C312.60,153.03 309.03,152.77 325.60,152.80 C342.17,152.83 374.63,154.47 389.40,154.80 C404.17,155.13 403.80,153.52 414.20,154.80 C424.60,156.08 444.55,160.08 451.80,162.50 C459.05,164.92 457.13,166.75 457.70,169.30 C458.27,171.85 458.75,174.10 455.20,177.80 C451.65,181.50 442.95,187.17 436.40,191.50 C429.85,195.83 425.30,201.67 415.90,203.80 C406.50,205.93 392.40,204.45 380.00,204.30 C367.60,204.15 356.50,203.57 341.50,202.90 C326.50,202.23 302.53,200.82 290.00,200.30 C277.47,199.78 272.52,200.27 266.30,199.80 C260.08,199.33 261.18,197.83 252.70,197.50 C244.22,197.17 225.85,197.88 215.40,197.80 C204.95,197.72 196.75,197.42 190.00,197.00 C183.25,196.58 184.77,195.03 174.90,195.30 C165.03,195.57 145.92,197.90 130.80,198.60 C115.68,199.30 96.00,199.35 84.20,199.50 C72.40,199.65 64.03,205.02 60.00,199.50 C55.97,193.98 55.97,171.92 60.00,166.40 Z"/>
<path d="M60.00,174.40 C64.03,172.20 72.40,174.88 84.20,174.40 C96.00,173.92 115.68,172.83 130.80,171.50 C145.92,170.17 165.03,166.97 174.90,166.40 C184.77,165.83 181.83,167.62 190.00,168.10 C198.17,168.58 207.23,170.00 223.90,169.30 C240.57,168.60 275.72,165.32 290.00,163.90 C304.28,162.48 301.77,161.97 309.60,160.80 C317.43,159.63 329.40,157.02 337.00,156.90 C344.60,156.78 348.03,158.75 355.20,160.10 C362.37,161.45 372.17,163.52 380.00,165.00 C387.83,166.48 399.35,167.37 402.20,169.00 C405.05,170.63 399.67,173.18 397.10,174.80 C394.53,176.42 389.65,177.92 386.80,178.70 C383.95,179.48 386.42,178.50 380.00,179.50 C373.58,180.50 359.27,183.53 348.30,184.70 C337.33,185.87 323.92,186.15 314.20,186.50 C304.48,186.85 300.25,186.75 290.00,186.80 C279.75,186.85 263.72,186.52 252.70,186.80 C241.68,187.08 230.68,188.50 223.90,188.50 C217.12,188.50 217.65,186.88 212.00,186.80 C206.35,186.72 196.18,188.00 190.00,188.00 C183.82,188.00 184.77,186.87 174.90,186.80 C165.03,186.73 145.92,187.47 130.80,187.60 C115.68,187.73 96.00,187.60 84.20,187.60 C72.40,187.60 64.03,189.80 60.00,187.60 C55.97,185.40 55.97,176.60 60.00,174.40 Z"/>
</g>
<g font-family="Liberation Sans, sans-serif" font-size="13.5" fill="#111" text-anchor="middle"><text x="375" y="148.3" transform="rotate(0 375 143.5)">0.2</text><text x="375" y="158.3" transform="rotate(0 375 153.5)">0.4</text><text x="147.2" y="160.1" transform="rotate(-3 147.2 155.3)">0.2</text><text x="148.7" y="169.7" transform="rotate(-3 148.7 164.9)">0.4</text><text x="326" y="207.3" transform="rotate(2 326 202.5)">0.4</text><text x="373" y="231.3" transform="rotate(3 373 226.5)">0.2</text><text x="584.3" y="217.2" transform="rotate(-10 584.3 212.4)">0.2</text><text x="272.2" y="114.6" transform="rotate(55 272.2 109.8)">0</text><text x="659" y="118.6" transform="rotate(37 659 113.8)">0</text><text x="181.2" y="257.7" transform="rotate(-8 181.2 252.9)">0</text><text x="394.5" y="272.5" transform="rotate(20 394.5 267.7)">0</text><text x="595.5" y="300.7" transform="rotate(-32 595.5 295.9)">0</text><text x="142.6" y="387.8" transform="rotate(0 142.6 383)">0</text><text x="302.3" y="517.2" transform="rotate(26 302.3 512.4)">0</text><text x="475.4" y="535.4" transform="rotate(-34 475.4 530.6)">0</text><text x="604.6" y="438.4" transform="rotate(22 604.6 433.6)">0</text><text x="635.5" y="588.6" transform="rotate(32 635.5 583.8)">0</text><text x="795.9" y="407.1" transform="rotate(5 795.9 402.3)">0</text></g>
<rect x="801" y="51" width="68" height="590" fill="#fff"/>
<line x1="800.6" y1="51" x2="800.6" y2="641" stroke="#333" stroke-width="1.1"/>
<path d="M840.6,641.5 L841.5,560.0 L842.9,280.0 L843.3,255.0 L844.0,240.0 L845.3,225.0 L847.0,205.0 L848.5,190.0 L849.6,178.0 L850.5,168.0 L851.5,160.0 L852.5,155.0 L853.5,151.5 L854.5,149.5 L855.5,148.6 L856.5,148.5 L857.8,149.2 L859.1,150.5 L860.0,147.5 L861.0,144.0 L862.0,141.0 L863.2,139.2 L864.3,140.5 L865.2,144.5 L865.9,152.0 L866.5,165.0 L867.3,187.8 L868.5,200.0 L869.0,641.5 Z" fill="#000"/>
<g stroke="#000" stroke-width="2.4" fill="none" stroke-linecap="butt"><path d="M74,50.85 L877.5,50.85 M82.5,50.85 L82.5,640.85 M74,640.85 L877.5,640.85 M869,50.85 L869,640.85"/><path d="M869.00,50.85 L869.00,42.85 M869.00,640.85 L869.00,649.45"/><path d="M813.46,50.85 L813.46,45.050000000000004 M813.46,640.85 L813.46,646.85"/><path d="M757.92,50.85 L757.92,42.85 M757.92,640.85 L757.92,649.45"/><path d="M702.38,50.85 L702.38,45.050000000000004 M702.38,640.85 L702.38,646.85"/><path d="M646.84,50.85 L646.84,42.85 M646.84,640.85 L646.84,649.45"/><path d="M591.30,50.85 L591.30,45.050000000000004 M591.30,640.85 L591.30,646.85"/><path d="M535.76,50.85 L535.76,42.85 M535.76,640.85 L535.76,649.45"/><path d="M480.22,50.85 L480.22,45.050000000000004 M480.22,640.85 L480.22,646.85"/><path d="M424.68,50.85 L424.68,42.85 M424.68,640.85 L424.68,649.45"/><path d="M369.14,50.85 L369.14,45.050000000000004 M369.14,640.85 L369.14,646.85"/><path d="M313.60,50.85 L313.60,42.85 M313.60,640.85 L313.60,649.45"/><path d="M258.06,50.85 L258.06,45.050000000000004 M258.06,640.85 L258.06,646.85"/><path d="M202.52,50.85 L202.52,42.85 M202.52,640.85 L202.52,649.45"/><path d="M146.98,50.85 L146.98,45.050000000000004 M146.98,640.85 L146.98,646.85"/><path d="M91.44,50.85 L91.44,42.85 M91.44,640.85 L91.44,649.45"/><path d="M82.5,50.85 L74.3,50.85 M869,50.85 L877.2,50.85"/><path d="M82.5,109.85 L76.6,109.85 M869,109.85 L874.9,109.85"/><path d="M82.5,168.85 L74.3,168.85 M869,168.85 L877.2,168.85"/><path d="M82.5,227.85 L76.6,227.85 M869,227.85 L874.9,227.85"/><path d="M82.5,286.85 L74.3,286.85 M869,286.85 L877.2,286.85"/><path d="M82.5,345.85 L76.6,345.85 M869,345.85 L874.9,345.85"/><path d="M82.5,404.85 L74.3,404.85 M869,404.85 L877.2,404.85"/><path d="M82.5,463.85 L76.6,463.85 M869,463.85 L874.9,463.85"/><path d="M82.5,522.85 L74.3,522.85 M869,522.85 L877.2,522.85"/><path d="M82.5,581.85 L76.6,581.85 M869,581.85 L874.9,581.85"/><path d="M82.5,640.85 L74.3,640.85 M869,640.85 L877.2,640.85"/></g>
<g fill="#000"><path d="M77.9,30.4 L87.1,30.4 L82.5,38.4 Z"/><path d="M103.9,30.4 L113.1,30.4 L108.5,38.4 Z"/><path d="M130.6,30.4 L139.8,30.4 L135.2,38.4 Z"/><path d="M169.9,30.4 L179.1,30.4 L174.5,38.4 Z"/><path d="M209.9,30.4 L219.1,30.4 L214.5,38.4 Z"/><path d="M250.0,30.4 L259.2,30.4 L254.6,38.4 Z"/><path d="M289.9,30.4 L299.1,30.4 L294.5,38.4 Z"/><path d="M330.7,30.4 L339.9,30.4 L335.3,38.4 Z"/><path d="M370.8,30.4 L380.0,30.4 L375.4,38.4 Z"/><path d="M411.0,30.4 L420.2,30.4 L415.6,38.4 Z"/><path d="M450.7,30.4 L459.9,30.4 L455.3,38.4 Z"/><path d="M490.7,30.4 L499.9,30.4 L495.3,38.4 Z"/><path d="M531.7,30.4 L540.9,30.4 L536.3,38.4 Z"/><path d="M572.2,30.4 L581.4,30.4 L576.8,38.4 Z"/><path d="M612.8,30.4 L622.0,30.4 L617.4,38.4 Z"/><path d="M653.3,30.4 L662.5,30.4 L657.9,38.4 Z"/><path d="M673.3,30.4 L682.5,30.4 L677.9,38.4 Z"/><path d="M693.9,30.4 L703.1,30.4 L698.5,38.4 Z"/><path d="M714.0,30.4 L723.2,30.4 L718.6,38.4 Z"/><path d="M734.7,30.4 L743.9,30.4 L739.3,38.4 Z"/><path d="M754.8,30.4 L764.0,30.4 L759.4,38.4 Z"/><path d="M774.9,30.4 L784.1,30.4 L779.5,38.4 Z"/><path d="M795.7,30.4 L804.9,30.4 L800.3,38.4 Z"/><path d="M815.8,30.4 L825.0,30.4 L820.4,38.4 Z"/><path d="M829.8,30.4 L839.0,30.4 L834.4,38.4 Z"/><path d="M843.6,30.4 L852.8,30.4 L848.2,38.4 Z"/><path d="M863.9,30.4 L873.1,30.4 L868.5,38.4 Z"/></g>
<g font-family="Liberation Sans, sans-serif" font-size="19.4" fill="#000"><text x="868.4" y="667.5" text-anchor="middle">0</text><text x="757.3" y="667.5" text-anchor="middle">200</text><text x="646.2" y="667.5" text-anchor="middle">400</text><text x="535.2" y="667.5" text-anchor="middle">600</text><text x="424.1" y="667.5" text-anchor="middle">800</text><text x="313.0" y="667.5" text-anchor="middle">1000</text><text x="201.9" y="667.5" text-anchor="middle">1200</text><text x="90.8" y="667.5" text-anchor="middle">1400</text><text x="72.5" y="56.9" text-anchor="end">0</text><text x="72.5" y="174.8" text-anchor="end">100</text><text x="72.5" y="292.9" text-anchor="end">200</text><text x="72.5" y="410.9" text-anchor="end">300</text><text x="72.5" y="528.9" text-anchor="end">400</text><text x="72.5" y="646.9" text-anchor="end">500</text></g>
<text x="473.6" y="23" font-family="Liberation Sans, sans-serif" font-size="24.9" text-anchor="middle" fill="#000">Salinity anomaly along Line-P - Jan. 2011</text>
<text x="475.4" y="702.5" font-family="Liberation Sans, sans-serif" font-size="22.3" text-anchor="middle" fill="#000">Distance along Line-P (km)</text>
<text transform="translate(22.5 344.5) rotate(-90)" x="0" y="0" font-family="Liberation Sans, sans-serif" font-size="25.1" text-anchor="middle" fill="#000">Pressure (dbar)</text>
<text x="719.2" y="686.8" font-family="Liberation Sans, sans-serif" font-size="11.15" fill="#222">Last update: 31st Jan. 2011</text>
</svg></body></html>
